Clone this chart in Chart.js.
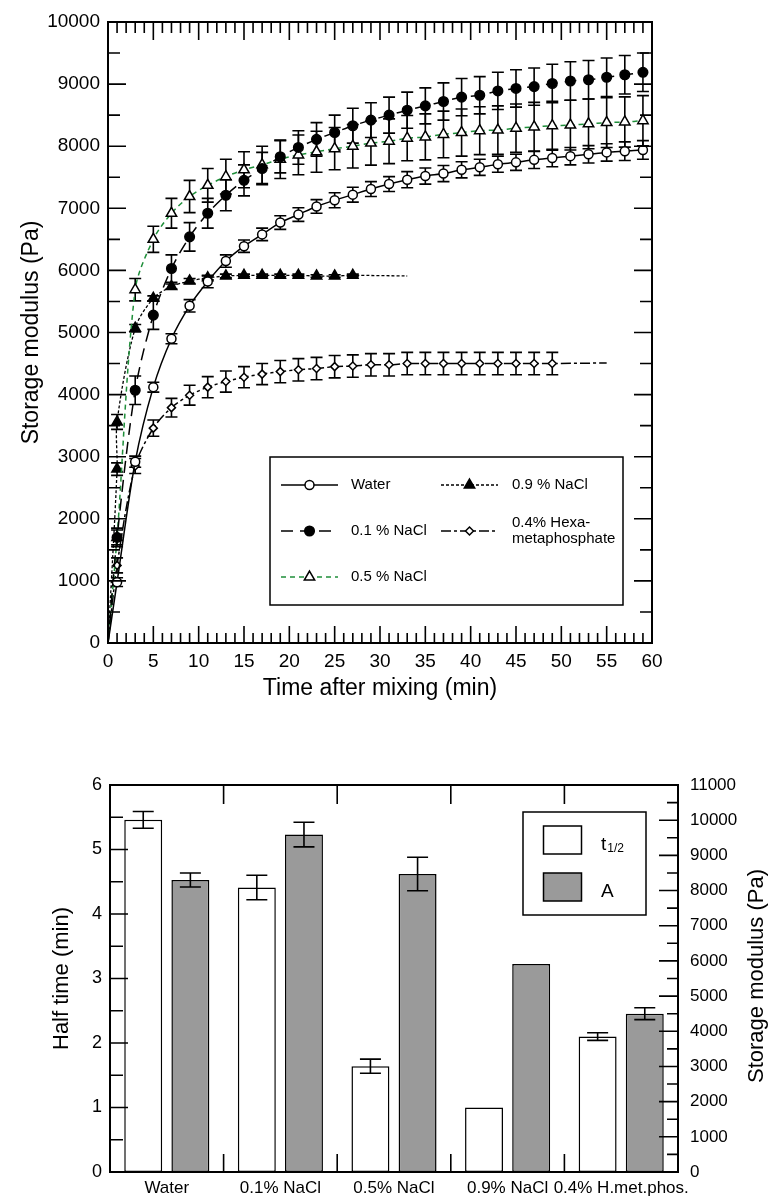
<!DOCTYPE html>
<html>
<head>
<meta charset="utf-8">
<script src="https://cdn.jsdelivr.net/npm/chart.js@4.4.0/dist/chart.umd.min.js"></script>
<style>
  html, body { margin: 0; padding: 0; background: #fff; }
  body { width: 768px; height: 1196px; position: relative; overflow: hidden; }
  #gelTop { position: absolute; left: 0; top: 0; }
  #gelBars { position: absolute; left: 0; top: 720px; }
</style>
</head>
<body>
<canvas id="gelTop" width="768" height="720"></canvas>
<canvas id="gelBars" width="768" height="476"></canvas>
<script>
// --- data ---
const timeMin = [1, 3, 5, 7, 9, 11, 13, 15, 17, 19, 21, 23, 25, 27, 29, 31, 33, 35, 37, 39, 41, 43, 45, 47, 49, 51, 53, 55, 57, 59];

const water = [980, 2920, 4120, 4900, 5430, 5820, 6150, 6390, 6580, 6770, 6900, 7030, 7130, 7220, 7310, 7390, 7460, 7520, 7560, 7620, 7660, 7710, 7740, 7780, 7810, 7840, 7870, 7900, 7920, 7940];
const waterErr = [70, 90, 80, 80, 100, 100, 100, 100, 100, 110, 110, 110, 120, 120, 120, 120, 130, 130, 130, 130, 130, 130, 130, 140, 140, 140, 140, 140, 150, 150];

const nacl01 = [1700, 4070, 5280, 6030, 6540, 6920, 7210, 7450, 7640, 7830, 7980, 8110, 8220, 8330, 8420, 8500, 8580, 8650, 8720, 8790, 8820, 8890, 8930, 8960, 9010, 9050, 9070, 9110, 9150, 9190];
const nacl01Err = [120, 230, 230, 220, 230, 240, 250, 250, 260, 260, 270, 270, 280, 280, 280, 290, 290, 290, 300, 300, 300, 300, 300, 300, 310, 310, 310, 310, 310, 310];

const nacl05 = [1700, 5690, 6500, 6920, 7190, 7370, 7510, 7620, 7700, 7790, 7860, 7910, 7960, 8000, 8050, 8080, 8130, 8150, 8190, 8220, 8250, 8260, 8290, 8310, 8330, 8340, 8360, 8380, 8390, 8410];
const nacl05Err = [150, 180, 210, 240, 260, 270, 280, 290, 300, 310, 320, 330, 340, 350, 355, 360, 365, 370, 375, 380, 385, 390, 390, 395, 395, 400, 400, 400, 405, 405];

const nacl09Time = [1, 1, 3, 5, 7, 9, 11, 13, 15, 17, 19, 21, 23, 25, 27];
const nacl09 = [2800, 3560, 5070, 5550, 5740, 5830, 5880, 5910, 5920, 5920, 5920, 5920, 5910, 5910, 5920];
const nacl09Err = [100, 120, 60, 40, 40, 40, 30, 30, 20, 20, 20, 20, 20, 20, 20];
const nacl09TailTime = [33];
const nacl09Tail = [5910];

const hexaTime = [1, 3, 5, 7, 9, 11, 13, 15, 17, 19, 21, 23, 25, 27, 29, 31, 33, 35, 37, 39, 41, 43, 45, 47, 49];
const hexa = [1250, 2850, 3460, 3790, 3990, 4120, 4210, 4280, 4330, 4370, 4400, 4420, 4450, 4460, 4480, 4480, 4500, 4500, 4500, 4500, 4500, 4500, 4500, 4500, 4500];
const hexaErr = [120, 120, 130, 150, 160, 170, 170, 170, 170, 180, 180, 180, 180, 180, 180, 180, 180, 180, 180, 180, 180, 180, 180, 180, 180];
const hexaTailTime = [55];
const hexaTail = [4510];

const timeTicks = [0, 5, 10, 15, 20, 25, 30, 35, 40, 45, 50, 55, 60];
const modulusTicksTop = [0, 1000, 2000, 3000, 4000, 5000, 6000, 7000, 8000, 9000, 10000];

const categories = ['Water', '0.1% NaCl', '0.5% NaCl', '0.9% NaCl', '0.4% H.met.phos.'];
const halfTime = [5.46, 4.41, 1.64, 1.0, 2.10];
const halfTimeErr = [0.13, 0.19, 0.11, 0, 0.06];
const amplitude = [8300, 9590, 8470, 5910, 4500];
const amplitudeErr = [200, 350, 475, 0, 170];
const halfTimeTicks = [0, 1, 2, 3, 4, 5, 6];
const modulusTicksBars = [0, 1000, 2000, 3000, 4000, 5000, 6000, 7000, 8000, 9000, 10000, 11000];

// --- chart setup ---
const FONT = '"Liberation Sans", Arial, Helvetica, sans-serif';
Chart.defaults.font.family = FONT;
Chart.defaults.color = '#000';

// build a line dataset: curve starts at the origin, optional tail without markers
function series(label, times, values, errs, tailT, tailV, style) {
  const pts = [{ x: 0, y: 0 }], err = [0], rad = [0];
  times.forEach((t, i) => { pts.push({ x: t, y: values[i] }); err.push(errs[i]); rad.push(style.r); });
  tailT.forEach((t, i) => { pts.push({ x: t, y: tailV[i] }); err.push(0); rad.push(0); });
  return {
    label, data: pts, errors: err,
    legendLines: style.legendLines || [label], markerRadius: style.r,
    borderColor: style.line, borderWidth: style.lw || 1.5, borderDash: style.dash || [],
    pointStyle: style.shape, pointRadius: rad, pointHoverRadius: rad,
    pointBackgroundColor: style.fill, pointBorderColor: '#000', pointBorderWidth: 1.5,
    tension: 0.3, fill: false
  };
}

const errorBars = {
  id: 'errorBars',
  beforeDatasetsDraw(chart) {
    const ctx = chart.ctx;
    ctx.save();
    ctx.strokeStyle = '#000';
    ctx.lineWidth = 1.6;
    chart.data.datasets.forEach((ds, i) => {
      if (!ds.errors) return;
      const meta = chart.getDatasetMeta(i);
      const ys = chart.scales[meta.yAxisID];
      const cap = chart.config.type === 'bar' ? 10.5 : 6;
      meta.data.forEach((el, j) => {
        const e = ds.errors[j];
        if (!e) return;
        const v = typeof ds.data[j] === 'object' ? ds.data[j].y : ds.data[j];
        const y1 = ys.getPixelForValue(v + e), y2 = ys.getPixelForValue(v - e);
        const x = el.x;
        ctx.beginPath();
        ctx.moveTo(x, y1); ctx.lineTo(x, y2);
        ctx.moveTo(x - cap, y1); ctx.lineTo(x + cap, y1);
        ctx.moveTo(x - cap, y2); ctx.lineTo(x + cap, y2);
        ctx.stroke();
      });
    });
    ctx.restore();
  }
};
// bars: draw error bars on top
const barErrors = { id: 'barErrors', afterDatasetsDraw: errorBars.beforeDatasetsDraw };

// frame + inward ticks
function frameTicks(marks) {
  return {
    id: 'frameTicks',
    afterDatasetsDraw(chart) {
      const { ctx, chartArea: a } = chart;
      ctx.save();
      ctx.strokeStyle = '#000';
      ctx.lineWidth = 1.6;
      ctx.beginPath();
      marks.forEach(m => {
        const s = chart.scales[m.scale];
        for (let v = m.from; v <= m.to + 1e-9; v += m.step) {
          const p = s.getPixelForValue(v);
          const isMajor = m.every ? Math.abs(v / m.every - Math.round(v / m.every)) < 1e-6 : true;
          const len = isMajor ? m.major : m.minor;
          if (m.side === 'left') { ctx.moveTo(a.left, p); ctx.lineTo(a.left + len, p); }
          if (m.side === 'right') { ctx.moveTo(a.right, p); ctx.lineTo(a.right - len, p); }
          if (m.side === 'top') { ctx.moveTo(p, a.top); ctx.lineTo(p, a.top + len); }
          if (m.side === 'bottom') { ctx.moveTo(p, a.bottom); ctx.lineTo(p, a.bottom - len); }
        }
      });
      ctx.stroke();
      ctx.lineWidth = 2;
      ctx.strokeRect(a.left, a.top, a.right - a.left, a.bottom - a.top);
      ctx.restore();
    }
  };
}

const lineLegend = {
  id: 'lineLegend',
  afterDraw(chart) {
    const ctx = chart.ctx;
    const slots = [
      { x1: 281, x2: 338, tx: 351, y: 485 },
      { x1: 281, x2: 338, tx: 351, y: 531 },
      { x1: 281, x2: 338, tx: 351, y: 577 },
      { x1: 441, x2: 498, tx: 512, y: 485 },
      { x1: 441, x2: 498, tx: 512, y: 531 }
    ];
    ctx.save();
    ctx.fillStyle = '#fff';
    ctx.fillRect(270, 457, 353, 148);
    ctx.strokeStyle = '#000';
    ctx.lineWidth = 1.5;
    ctx.strokeRect(270, 457, 353, 148);
    chart.data.datasets.forEach((ds, i) => {
      const s = slots[i];
      ctx.save();
      ctx.strokeStyle = ds.borderColor;
      ctx.lineWidth = ds.borderWidth;
      ctx.setLineDash(ds.borderDash);
      ctx.beginPath(); ctx.moveTo(s.x1, s.y); ctx.lineTo(s.x2, s.y); ctx.stroke();
      ctx.setLineDash([]);
      ctx.fillStyle = ds.pointBackgroundColor;
      ctx.strokeStyle = '#000';
      ctx.lineWidth = 1.5;
      Chart.helpers.drawPoint(ctx, { pointStyle: ds.pointStyle, radius: ds.markerRadius, borderWidth: 1.5, rotation: 0 }, (s.x1 + s.x2) / 2, s.y);
      ctx.restore();
      ctx.fillStyle = '#000';
      ctx.font = '15px ' + FONT;
      ctx.textBaseline = 'middle';
      ctx.textAlign = 'left';
      const n = ds.legendLines.length;
      ds.legendLines.forEach((t, k) => ctx.fillText(t, s.tx, s.y + (k - (n - 1) / 2) * 16));
    });
    ctx.restore();
  }
};

new Chart(document.getElementById('gelTop'), {
  type: 'line',
  data: {
    datasets: [
      series('Water', timeMin, water, waterErr, [], [], { r: 4.5, shape: 'circle', fill: '#fff', line: '#000' }),
      series('0.1 % NaCl', timeMin, nacl01, nacl01Err, [], [], { r: 4.8, shape: 'circle', fill: '#000', line: '#000', dash: [12, 7] }),
      series('0.5 % NaCl', timeMin, nacl05, nacl05Err, [], [], { r: 6, shape: 'triangle', fill: '#fff', line: '#1f8f3a', dash: [5, 4] }),
      series('0.9 % NaCl', nacl09Time, nacl09, nacl09Err, nacl09TailTime, nacl09Tail, { r: 6, shape: 'triangle', fill: '#000', line: '#000', dash: [3, 2], lw: 1.3 }),
      series('0.4% Hexametaphosphate', hexaTime, hexa, hexaErr, hexaTailTime, hexaTail, { r: 4, shape: 'rectRot', fill: '#fff', line: '#000', dash: [10, 3, 3, 3], legendLines: ['0.4% Hexa-', 'metaphosphate'] })
    ]
  },
  options: {
    responsive: false, animation: false, events: [],
    layout: { padding: { top: 22, right: 116, left: 0, bottom: 0 } },
    plugins: { legend: { display: false }, tooltip: { enabled: false } },
    scales: {
      x: {
        type: 'linear', min: 0, max: 60,
        afterBuildTicks: s => { s.ticks = timeTicks.map(v => ({ value: v })); },
        grid: { display: false, drawTicks: false }, border: { display: false },
        ticks: { font: { size: 19 }, color: '#000', padding: 7 },
        title: { display: true, text: 'Time after mixing (min)', font: { size: 23 }, color: '#000', padding: { top: 0, bottom: 18 } },
        afterFit: s => { s.height = 77; }
      },
      y: {
        type: 'linear', min: 0, max: 10000,
        afterBuildTicks: s => { s.ticks = modulusTicksTop.map(v => ({ value: v })); },
        grid: { display: false, drawTicks: false }, border: { display: false },
        ticks: { font: { size: 19 }, color: '#000', padding: 8, callback: v => String(v) },
        title: { display: true, text: 'Storage modulus (Pa)', font: { size: 23 }, color: '#000', padding: { top: 18, bottom: 0 } },
        afterFit: s => { s.width = 108; }
      }
    }
  },
  plugins: [
    errorBars,
    frameTicks([
      { scale: 'y', side: 'left', from: 0, to: 10000, step: 500, every: 1000, major: 18, minor: 12 },
      { scale: 'y', side: 'right', from: 0, to: 10000, step: 500, every: 1000, major: 18, minor: 12 },
      { scale: 'x', side: 'top', from: 0, to: 60, step: 1, every: 5, major: 18, minor: 11 },
      { scale: 'x', side: 'bottom', from: 0, to: 60, step: 1, every: 5, major: 17, minor: 10 }
    ]),
    lineLegend
  ]
});

// --- bar chart ---
const barLegend = {
  id: 'barLegend',
  afterDraw(chart) {
    const ctx = chart.ctx;
    ctx.save();
    ctx.strokeStyle = '#000';
    ctx.lineWidth = 1.5;
    ctx.fillStyle = '#fff';
    ctx.fillRect(523, 92, 123, 103);
    ctx.strokeRect(523, 92, 123, 103);
    const rows = [106, 153];
    chart.data.datasets.forEach((ds, i) => {
      ctx.fillStyle = ds.backgroundColor;
      ctx.fillRect(543.5, rows[i], 38, 28);
      ctx.strokeRect(543.5, rows[i], 38, 28);
      ctx.fillStyle = '#000';
      ctx.textAlign = 'left';
      ctx.textBaseline = 'alphabetic';
      ctx.font = '19px ' + FONT;
      ctx.fillText(ds.legendMain, 601, rows[i] + 24);
      if (ds.legendSub) {
        const w = ctx.measureText(ds.legendMain).width;
        ctx.font = '12px ' + FONT;
        ctx.fillText(ds.legendSub, 601 + w + 1, rows[i] + 26);
      }
    });
    // right axis title, reading bottom to top
    ctx.translate(757, 256);
    ctx.rotate(-Math.PI / 2);
    ctx.font = '22px ' + FONT;
    ctx.textAlign = 'center';
    ctx.textBaseline = 'middle';
    ctx.fillText('Storage modulus (Pa)', 0, 0);
    ctx.restore();
  }
};

new Chart(document.getElementById('gelBars'), {
  type: 'bar',
  data: {
    labels: categories,
    datasets: [
      { label: 't1/2', legendMain: 't', legendSub: '1/2', data: halfTime, errors: halfTimeErr, yAxisID: 'y',
        backgroundColor: '#ffffff', borderColor: '#000', borderWidth: 1.5, borderSkipped: false,
        categoryPercentage: 0.83, barPercentage: 0.805 },
      { label: 'A', legendMain: 'A', data: amplitude, errors: amplitudeErr, yAxisID: 'y2',
        backgroundColor: '#9a9a9a', borderColor: '#000', borderWidth: 1.5, borderSkipped: false,
        categoryPercentage: 0.83, barPercentage: 0.805 }
    ]
  },
  options: {
    responsive: false, animation: false, events: [],
    layout: { padding: { top: 65, right: 0, left: 0, bottom: 0 } },
    plugins: { legend: { display: false }, tooltip: { enabled: false } },
    scales: {
      x: {
        grid: { display: false, drawTicks: false }, border: { display: false },
        ticks: { font: { size: 17 }, color: '#000', padding: 6, autoSkip: false, maxRotation: 0, minRotation: 0 },
        afterFit: s => { s.height = 24; }
      },
      y: {
        position: 'left', min: 0, max: 6,
        afterBuildTicks: s => { s.ticks = halfTimeTicks.map(v => ({ value: v })); },
        grid: { display: false, drawTicks: false }, border: { display: false },
        ticks: { font: { size: 18 }, color: '#000', padding: 8 },
        title: { display: true, text: 'Half time (min)', font: { size: 22 }, color: '#000', padding: { top: 49, bottom: 0 } },
        afterFit: s => { s.width = 110; }
      },
      y2: {
        position: 'right', min: 0, max: 11000,
        afterBuildTicks: s => { s.ticks = modulusTicksBars.map(v => ({ value: v })); },
        grid: { display: false, drawTicks: false }, border: { display: false },
        ticks: { font: { size: 17 }, color: '#000', padding: 12, callback: v => String(v) },
        afterFit: s => { s.width = 90; }
      }
    }
  },
  plugins: [
    barErrors,
    frameTicks([
      { scale: 'y', side: 'left', from: 0, to: 6, step: 0.5, every: 1, major: 18, minor: 13 },
      { scale: 'y2', side: 'right', from: 0, to: 11000, step: 500, every: 1000, major: 19, minor: 11 },
      { scale: 'x', side: 'top', from: 0.5, to: 3.5, step: 1, major: 19 },
      { scale: 'x', side: 'bottom', from: 0.5, to: 3.5, step: 1, major: 18 }
    ]),
    barLegend
  ]
});
</script>
</body>
</html>
